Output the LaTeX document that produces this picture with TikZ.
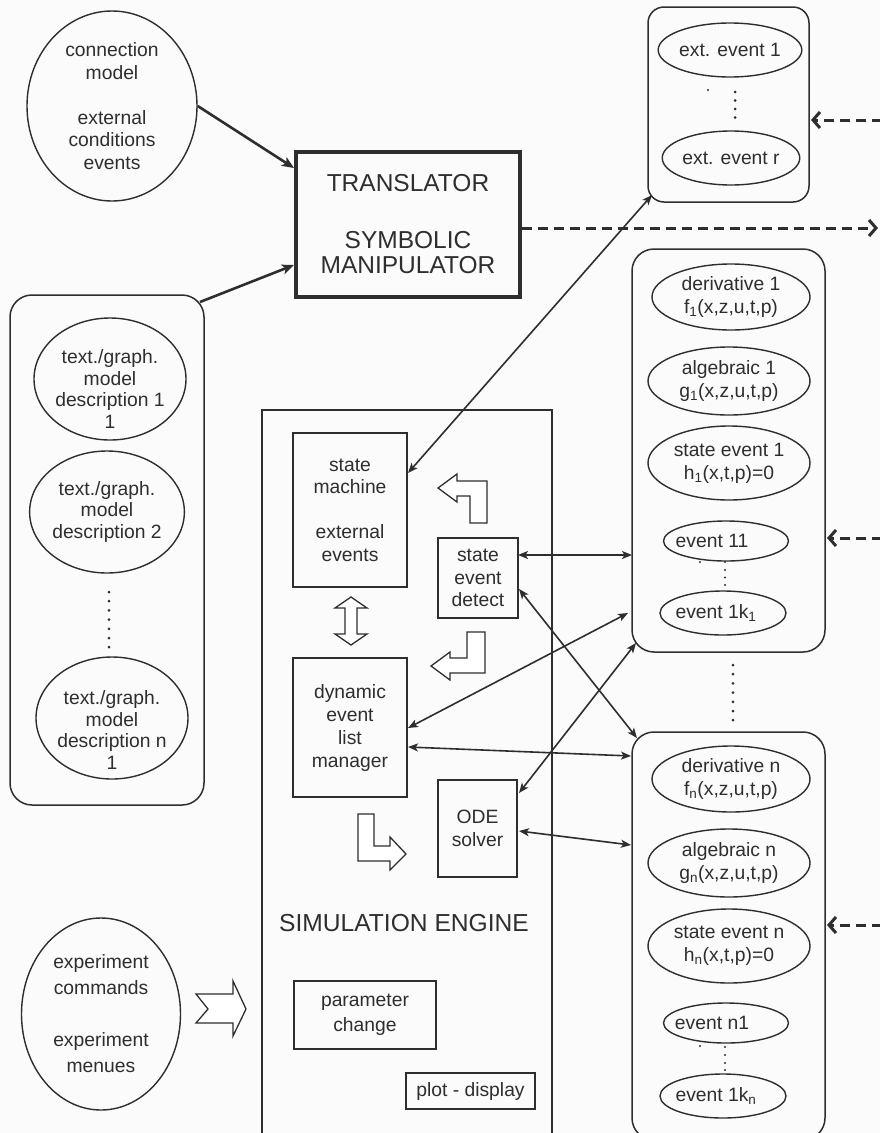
\documentclass[tikz,border=0pt]{standalone}
\usepackage{fontspec}
\setmainfont{Liberation Sans}
\usetikzlibrary{arrows.meta,shapes.geometric,calc}
\definecolor{ink}{HTML}{2E2E2E}
\definecolor{paper}{HTML}{FBFBFB}
\begin{document}
\begin{tikzpicture}[x=1pt,y=-1pt,
  every node/.style={font=\fontsize{19.3}{22.5}\selectfont, text=ink},
  ell/.style={draw=ink, line width=1.4pt, ellipse, inner sep=0pt, align=center},
  box/.style={draw=ink, line width=1.4pt, rectangle, inner sep=0pt, align=center},
  rbox/.style={draw=ink, line width=1.5pt, rectangle, rounded corners=20pt, inner sep=0pt},
  txt/.style={align=center, inner sep=0pt},
  link/.style={draw=ink, line width=1.6pt, {Stealth[length=10pt,width=8pt,inset=2.5pt]}-{Stealth[length=10pt,width=8pt,inset=2.5pt]}},
  feed/.style={draw=ink, line width=2.6pt, -{Stealth[length=12pt,width=10pt,inset=3pt]}},
  dasharrow/.style={draw=ink, line width=3pt, dash pattern=on 10pt off 6pt, -{Straight Barb[length=7pt,width=16pt]}},
  hollow/.style={draw=ink, line width=1.3pt, fill=white, line join=miter},
  dotmark/.style={fill=ink, draw=none}
]
\useasboundingbox[fill=paper] (0,0) rectangle (880,1133);
\clip (0,0) rectangle (880,1133);

% top-left ellipse
\node[ell, minimum width=170pt, minimum height=190pt] (conn) at (112,106)
  {connection\\model\\[22.5pt]external\\conditions\\events};

% translator
\node[box, line width=4pt, minimum width=224pt, minimum height=145pt,
      font=\fontsize{24.5}{25}\selectfont] (tr) at (408,224.5)
  {TRANSLATOR\\[32pt]SYMBOLIC\\MANIPULATOR};

% external events box
\node[rbox, rounded corners=16pt, minimum width=161pt, minimum height=195pt] (ext) at (728.5,104.5) {};
\node[ell, minimum width=134pt, minimum height=54pt] (ext1) at (730,50) {ext. event 1};
\node[ell, minimum width=134pt, minimum height=54pt] (extr) at (731,158) {ext. event r};
\foreach \yy in {92,100.5,109,117.5} \fill[dotmark] (735,\yy) circle (1.5pt);
\fill[dotmark] (708,90) circle (1.2pt);

% left model box
\node[rbox, rounded corners=22pt, minimum width=194pt, minimum height=510pt] (lbox) at (107,550) {};
\node[ell, minimum width=152pt, minimum height=122pt] (md1) at (110,379) {};
\node[txt, font=\fontsize{19.3}{21.5}\selectfont] (md1t) at (110,389) {text./graph.\\model\\description 1\\1};
\node[ell, minimum width=152pt, minimum height=122pt, font=\fontsize{19.3}{21.5}\selectfont] (md2) at (107,512) {text./graph.\\model\\description 2};
\node[ell, minimum width=152pt, minimum height=122pt] (md3) at (112,718) {};
\node[txt, font=\fontsize{19.3}{21.5}\selectfont] (md3t) at (112,730) {text./graph.\\model\\description n\\1};
\foreach \i in {0,...,6} \fill[dotmark] (109,592+9.2*\i) circle (1.5pt);

% simulation engine
\node[box, line width=2.8pt, minimum width=290pt, minimum height=740pt] (eng) at (407,780) {};
\node[box, minimum width=114pt, minimum height=154pt] (sm) at (350,510)
  {state\\machine\\[22.5pt]external\\events};
\node[box, minimum width=80pt, minimum height=80pt] (sed) at (478,578) {state\\event\\detect};
\node[box, minimum width=114pt, minimum height=139pt, font=\fontsize{19.3}{23}\selectfont] (dem) at (350,727.5)
  {dynamic\\event\\list\\manager};
\node[box, minimum width=79pt, minimum height=97pt, font=\fontsize{19.3}{23}\selectfont] (ode) at (477.5,828.5) {ODE\\solver};
\node[txt, font=\fontsize{24.6}{26}\selectfont] (engt) at (404,923) {SIMULATION ENGINE};
\node[box, minimum width=142pt, minimum height=68pt, font=\fontsize{19.3}{25}\selectfont] (pc) at (365,1015) {parameter\\change};
\node[box, minimum width=129pt, minimum height=36pt] (pd) at (470.5,1091) {plot - display};

% experiment ellipse
\node[ell, minimum width=159pt, minimum height=192pt, font=\fontsize{19.3}{26}\selectfont] (exp) at (101,1014)
  {experiment\\commands\\[26pt]experiment\\menues};

% right column box 1
\node[rbox, rounded corners=22pt, minimum width=193pt, minimum height=403pt] (b1) at (728.5,450.5) {};
\node[ell, minimum width=158pt, minimum height=66pt, font=\fontsize{19.3}{23}\selectfont] (d1) at (731,297) {derivative 1\\f\textsubscript{1}(x,z,u,t,p)};
\node[ell, minimum width=162pt, minimum height=68pt, font=\fontsize{19.3}{23}\selectfont] (a1) at (729,381) {algebraic 1\\g\textsubscript{1}(x,z,u,t,p)};
\node[ell, minimum width=162pt, minimum height=74pt, font=\fontsize{19.3}{23}\selectfont] (s1) at (729,463) {state event 1\\h\textsubscript{1}(x,t,p)=0};
\node[ell, minimum width=125pt, minimum height=40pt] (e11) at (726,541) {};
\node[txt] (e11t) at (712,541) {event 11};
\node[ell, minimum width=126pt, minimum height=44pt] (e1k) at (723,613) {};
\node[txt] (e1kt) at (716,613) {event 1k\textsubscript{1}};
\foreach \yy in {562,570,577.5,585} \fill[dotmark] (725,\yy) circle (1.2pt);
\fill[dotmark] (700,562) circle (1.1pt);

% dots between boxes
\foreach \i in {0,...,6} \fill[dotmark] (733,665+9.2*\i) circle (1.5pt);

% right column box 2
\node[rbox, rounded corners=22pt, minimum width=193pt, minimum height=408pt] (b2) at (728.5,936) {};
\node[ell, minimum width=158pt, minimum height=66pt, font=\fontsize{19.3}{23}\selectfont] (dn) at (731,779) {derivative n\\f\textsubscript{n}(x,z,u,t,p)};
\node[ell, minimum width=162pt, minimum height=68pt, font=\fontsize{19.3}{23}\selectfont] (an) at (729,863) {algebraic n\\g\textsubscript{n}(x,z,u,t,p)};
\node[ell, minimum width=162pt, minimum height=74pt, font=\fontsize{19.3}{23}\selectfont] (sn) at (729,946) {state event n\\h\textsubscript{n}(x,t,p)=0};
\node[ell, minimum width=125pt, minimum height=40pt] (en1) at (726,1023) {};
\node[txt] (en1t) at (712,1023) {event n1};
\node[ell, minimum width=126pt, minimum height=44pt] (enk) at (723,1096) {};
\node[txt] (enkt) at (716,1096) {event 1k\textsubscript{n}};
\foreach \yy in {1047,1055,1063,1070} \fill[dotmark] (725,\yy) circle (1.2pt);
\fill[dotmark] (700,1046) circle (1.1pt);

% hollow block arrows
\draw[hollow] (470,523) -- (487,523) -- (487,481) -- (457,481) -- (457,474) -- (438,488)
  -- (457,502) -- (457,496) -- (470,496) -- cycle;
\draw[hollow] (467,632) -- (485,632) -- (485,673) -- (450,673) -- (450,680) -- (431,666)
  -- (450,652) -- (450,658) -- (467,658) -- cycle;
\draw[hollow] (358,814) -- (374,814) -- (374,846) -- (390,846) -- (390,837) -- (406,854)
  -- (390,870) -- (390,861) -- (358,861) -- cycle;
\draw[hollow] (351,597) -- (367,608) -- (357,608) -- (357,634) -- (367,634) -- (351,645)
  -- (335,634) -- (345,634) -- (345,608) -- (335,608) -- cycle;
\draw[hollow] (196,994) -- (233,994) -- (233,981) -- (246,1009) -- (233,1036) -- (233,1023)
  -- (196,1023) -- (208,1009) -- cycle;

% connector end points
\coordinate (tri1) at (294,168);
\coordinate (tri2) at (294,265);
\coordinate (lbo) at (200,302);
\coordinate (sma) at (408,473);
\coordinate (exta) at (652,195);
\coordinate (seda) at (518,555);
\coordinate (b1a) at (632,555);
\coordinate (sedb) at (519,589);
\coordinate (b2b) at (637,738);
\coordinate (demc) at (408,728);
\coordinate (b1c) at (628,613);
\coordinate (demd) at (408,747);
\coordinate (b2d) at (631,756);
\coordinate (odee) at (519,793);
\coordinate (b1e) at (636,643);
\coordinate (odef) at (519,831);
\coordinate (b2f) at (631,845);
\coordinate (trout) at (878,228);
\coordinate (trsrc) at (522,228);
\coordinate (rin1) at (882,120);
\coordinate (extin) at (811,120);
\coordinate (rin2) at (882,538);
\coordinate (b1in) at (827,538);
\coordinate (rin3) at (882,925);
\coordinate (b2in) at (827,925);

% feed arrows into translator
\draw[feed] (conn.east) -- (tri1);
\draw[feed] (lbo) -- (tri2);

% links
\draw[link] (sma) -- (exta);
\draw[link] (seda) -- (b1a);
\draw[link] (sedb) -- (b2b);
\draw[link] (demc) -- (b1c);
\draw[link] (demd) -- (b2d);
\draw[link] (odee) -- (b1e);
\draw[link] (odef) -- (b2f);

% dashed arrows
\draw[dasharrow] (trsrc) -- (trout);
\draw[dasharrow] (rin1) -- (extin);
\draw[dasharrow] (rin2) -- (b1in);
\draw[dasharrow] (rin3) -- (b2in);
\end{tikzpicture}
\end{document}
